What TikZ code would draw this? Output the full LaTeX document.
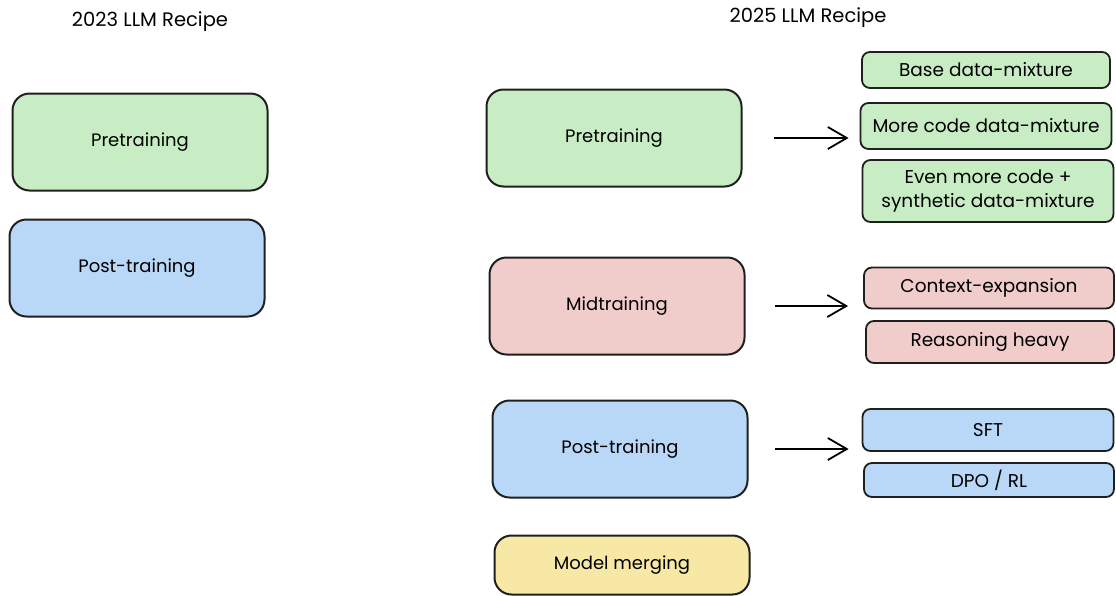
\documentclass[tikz,border=0pt]{standalone}
\usepackage{fontspec}
\setmainfont{Poppins}
\usetikzlibrary{arrows.meta}

% fill colours of the stages
\definecolor{pregreen}{HTML}{C8EDC4}
\definecolor{midpink}{HTML}{F0CCCB}
\definecolor{postblue}{HTML}{B9D7F6}
\definecolor{mergeyellow}{HTML}{F8E8A6}

\tikzset{
  stage/.style = {draw=black!88, line width=2pt, rounded corners=17pt,
                  minimum width=255pt, minimum height=97pt, align=center,
                  font=\fontsize{18}{21}\selectfont},
  part/.style  = {draw=black!88, line width=1.8pt, rounded corners=8pt,
                  minimum width=251pt, align=center,
                  font=\fontsize{18.5}{24}\selectfont},
  title/.style = {font=\fontsize{19.5}{22}\selectfont},
  arrow/.style = {line width=1.8pt, -{Straight Barb[length=19pt,width=22pt]}},
}

\begin{document}
\begin{tikzpicture}[x=1pt,y=-1pt]
    \useasboundingbox (0,0) rectangle (1116,595);

    % old recipe
    \node[title] (old) at (150,22) {2023 LLM Recipe};
    \node[stage, fill=pregreen]  (pre1)  at (140,142) {Pretraining};
    \node[stage, fill=postblue]  (post1) at (137,268) {Post-training};

    % new recipe
    \node[title] (new) at (808,18) {2025 LLM Recipe};
    \node[stage, fill=pregreen]    (pre2)   at (614,138) {Pretraining};
    \node[stage, fill=midpink]     (mid)    at (617,306) {Midtraining};
    \node[stage, fill=postblue]    (post2)  at (620,449) {Post-training};
    \node[stage, fill=mergeyellow, minimum height=59pt] (merge) at (622,565) {Model merging};

    % what goes into each stage
    \node[part, fill=pregreen, minimum width=248pt, minimum height=36pt] (base) at (986,70)  {Base data-mixture};
    \node[part, fill=pregreen, minimum height=46pt]  (more)   at (986,126) {More code data-mixture};
    \node[part, fill=pregreen, minimum height=62pt]  (synth)  at (988,191) {Even more code +\\synthetic data-mixture};
    \node[part, fill=midpink, minimum width=250pt, minimum height=41pt] (ctx) at (989,288) {Context-expansion};
    \node[part, fill=midpink, minimum width=248pt, minimum height=42pt] (reason) at (990,342) {Reasoning heavy};
    \node[part, fill=postblue, minimum height=42pt]  (sft)    at (988,430) {SFT};
    \node[part, fill=postblue, minimum width=250pt, minimum height=34pt] (dpo) at (989,480) {DPO / RL};

    \draw[arrow, shorten <=31pt, shorten >=11pt] (pre2.east)  -- (pre2.east -| more.west);
    \draw[arrow, shorten <=29pt, shorten >=15pt] (mid.east)   -- (mid.east -| ctx.west);
    \draw[arrow, shorten <=26pt, shorten >=13pt] (post2.east) -- (post2.east -| sft.west);
\end{tikzpicture}
\end{document}
